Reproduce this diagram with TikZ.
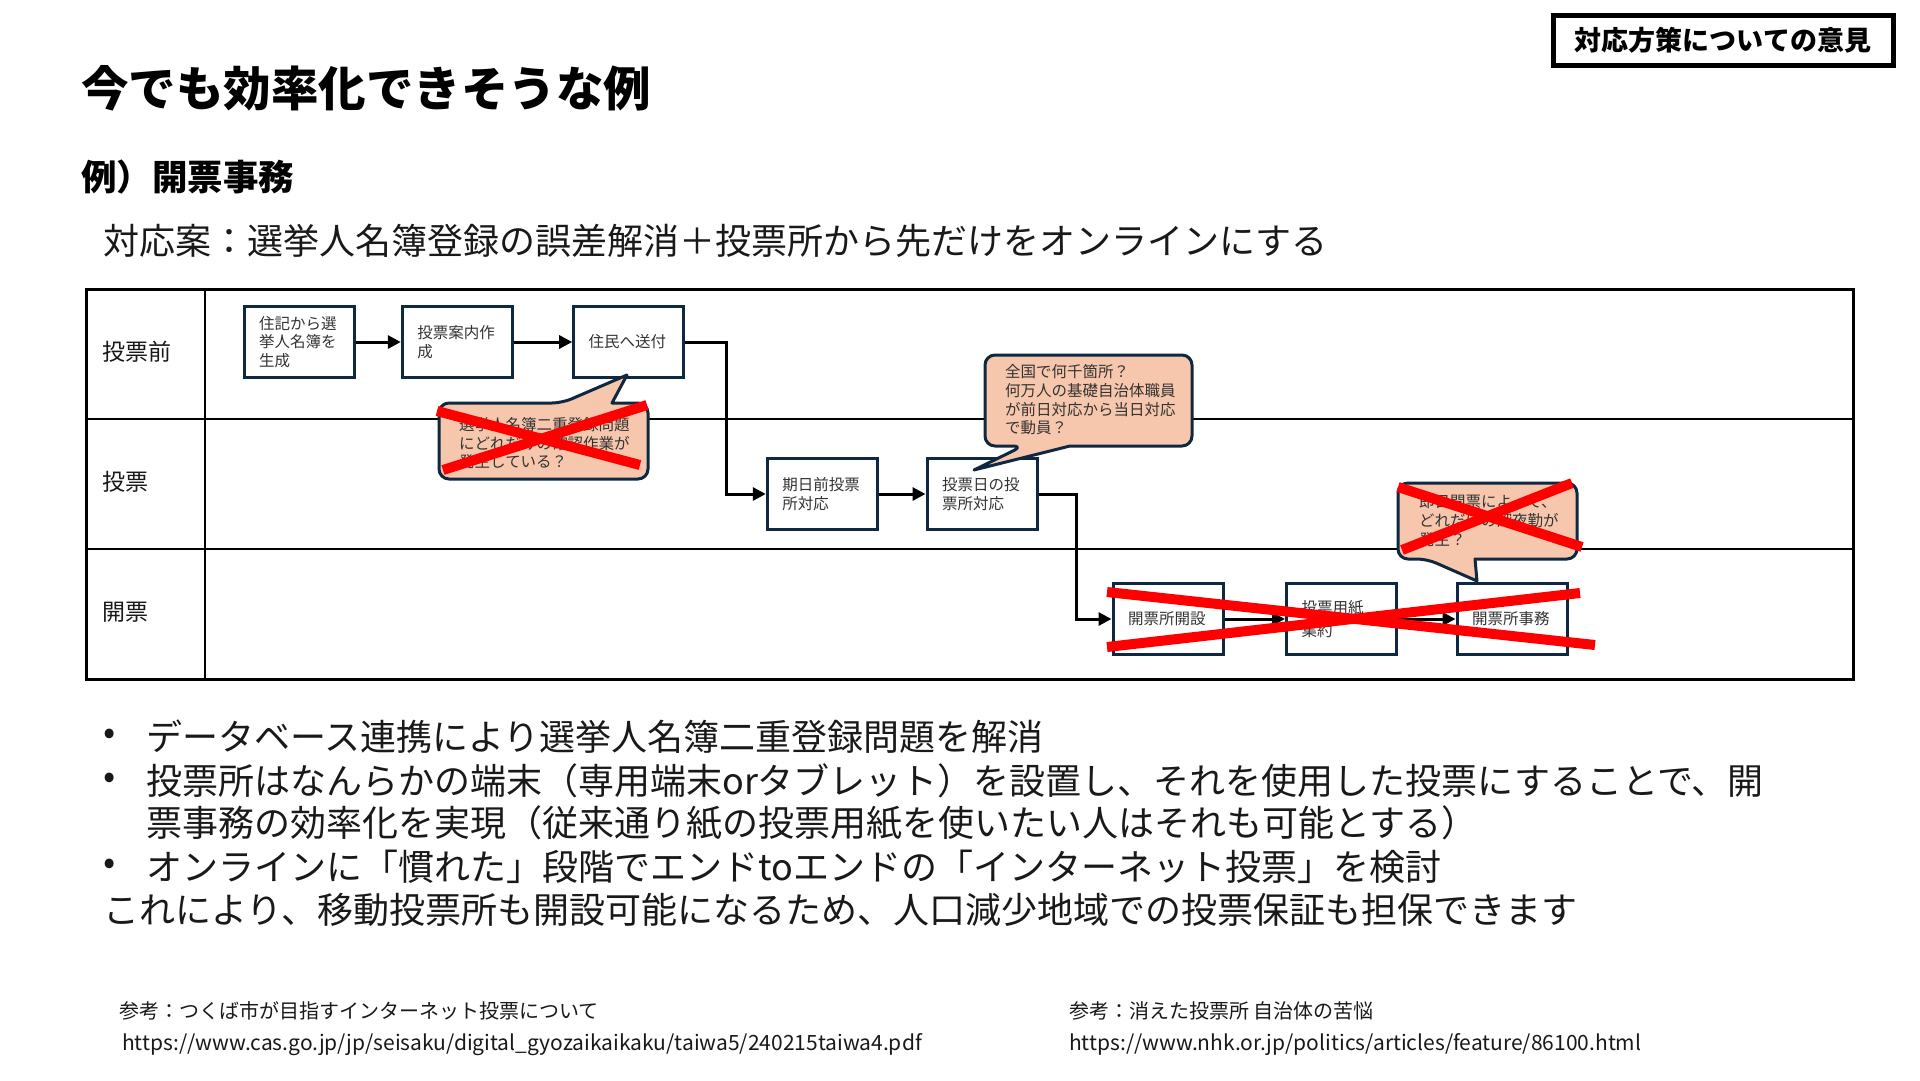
\documentclass[tikz,border=0pt]{standalone}
\usepackage{fontspec}
\setmainfont{Noto Sans CJK JP}
\usepackage{graphicx}
\usetikzlibrary{arrows.meta}
\definecolor{navy}{HTML}{0E2841}
\definecolor{peach}{HTML}{F6C6AD}
\begin{document}
\begin{tikzpicture}[x=1pt,y=-1pt,
  proc/.style={draw=navy, line width=3pt, fill=white, minimum width=110pt, minimum height=71pt,
    text width=80pt, align=left, inner sep=0pt, font=\fontsize{15.5pt}{18.5pt}\selectfont, text=black!80},
  flow/.style={line width=3pt, -{Triangle[length=13pt,width=13pt]}},
  callout/.style={draw=navy, line width=3pt, fill=peach, line join=round},
  cross/.style={draw=red, line width=10pt},
  lane/.style={font=\fontsize{23pt}{27pt}\selectfont, anchor=west, inner sep=0pt, text=black!90},
  ctext/.style={font=\fontsize{15.5pt}{18.6pt}\selectfont, anchor=west, align=left, inner sep=0pt, text=black!80},
  body/.style={font=\fontsize{36pt}{40pt}\selectfont, anchor=west, inner sep=0pt, text=black!90},
  ref/.style={font=\fontsize{20pt}{24pt}\selectfont, anchor=west, inner sep=0pt, text=black!90},
  url/.style={font=\fontsize{21pt}{24pt}\selectfont, anchor=west, inner sep=0pt, text=black!90}
]
\useasboundingbox (0,0) rectangle (1920,1080);
\fill[white] (0,0) rectangle (1920,1080);

% header
\node[draw=black, line width=5pt, minimum width=340pt, minimum height=50pt, inner sep=0pt,
  font=\fontsize{27pt}{32pt}\selectfont\bfseries] (tag) at (1723,40) {対応方策についての意見};
\node[anchor=west, inner sep=0pt, font=\fontsize{47.5pt}{54pt}\selectfont\bfseries] (title) at (81,88) {今でも効率化できそうな例};
\node[anchor=west, inner sep=0pt, font=\fontsize{35.5pt}{40pt}\selectfont\bfseries] (sub) at (81,177) {例）開票事務};
\node[body] (plan) at (103,241) {対応案：選挙人名簿登録の誤差解消＋投票所から先だけをオンラインにする};

% swimlane table
\draw[line width=2pt] (205,289) -- (205,679);
\draw[line width=2pt] (86,419) -- (1853,419);
\draw[line width=2pt] (86,549) -- (1853,549);
\draw[line width=3pt] (86,289) rectangle (1853,679);
\node[lane] (l1) at (102,352) {投票前};
\node[lane] (l2) at (102,482) {投票};
\node[lane] (l3) at (102,612) {開票};

% process boxes
\node[proc] (b1) at (299,342) {住記から選\\挙人名簿を\\生成};
\node[proc] (b2) at (457.3,342) {投票案内作\\成};
\node[proc] (b3) at (628.7,342) {住民へ送付};
\node[proc] (b4) at (822.3,494) {期日前投票\\所対応};
\node[proc] (b5) at (982,494) {投票日の投\\票所対応};
\node[proc] (b6) at (1168,619) {開票所開設};
\node[proc] (b7) at (1341.5,619) {投票用紙\\[5pt]集約};
\node[proc] (b8) at (1512,619) {開票所事務};

% connectors
\draw[flow] (b1.east) -- (b2.west);
\draw[flow] (b2.east) -- (b3.west);
\draw[flow] (b3.east) -- ++(41,0) |- (b4.west);
\draw[flow] (b4.east) -- (b5.west);
\draw[flow] (b5.east) -- ++(38,0) |- (b6.west);
\draw[flow] (b6.east) -- (b7.west);
\draw[flow] (b7.east) -- (b8.west);

% callout 1
\filldraw[callout] (562,403) -- (627,375) -- (612,403) [rounded corners=10pt] -- (648,403) -- (648,479) -- (439,479) -- (439,403) -- cycle;
\node[ctext] (c1) at (459,443.5) {選挙人名簿二重登録問題\\にどれだけの確認作業が\\発生している？};
\draw[cross] (437,411) -- (640,465);
\draw[cross] (443,470) -- (647,405);

% callout 2
\filldraw[callout] (1023,446) -- (974,470) -- (1070,446) [rounded corners=10pt] -- (1192,446) -- (1192,355) -- (985,355) -- (985,446) -- cycle;
\node[ctext] (c2) at (1005,400) {全国で何千箇所？\\何万人の基礎自治体職員\\が前日対応から当日対応\\で動員？};

% callout 3
\filldraw[callout] (1427,559) -- (1477,581) -- (1475,559) [rounded corners=10pt] -- (1577,559) -- (1577,483) -- (1398,483) -- (1398,559) -- cycle;
\node[ctext] (c3) at (1419,521) {即日開票によって、\\どれだけの深夜勤が\\発生？};
\draw[cross] (1398,487) -- (1582,547);
\draw[cross] (1402,550) -- (1572,483);

% cross over opening boxes
\draw[cross] (1107,592) -- (1595,645);
\draw[cross] (1107,647) -- (1580,593);

% bullets
\node[body] (d1) at (103,737) {•};
\node[body] (t1) at (146,737) {データベース連携により選挙人名簿二重登録問題を解消};
\node[body] (d2) at (103,781) {•};
\node[body] (t2) at (146,781) {投票所はなんらかの端末（専用端末orタブレット）を設置し、それを使用した投票にすることで、開};
\node[body] (t2b) at (146,823) {票事務の効率化を実現（従来通り紙の投票用紙を使いたい人はそれも可能とする）};
\node[body] (d3) at (103,867) {•};
\node[body] (t3) at (146,867) {オンラインに「慣れた」段階でエンドtoエンドの「インターネット投票」を検討};
\node[body] (t4) at (103,910) {これにより、移動投票所も開設可能になるため、人口減少地域での投票保証も担保できます};

% references
\node[ref] (r1) at (119,1011) {参考：つくば市が目指すインターネット投票について};
\node[url] (u1) at (122,1044.5) {https://www.cas.go.jp/jp/seisaku/digital\_gyozaikaikaku/taiwa5/240215taiwa4.pdf};
\node[ref] (r2) at (1069,1011) {参考：消えた投票所 自治体の苦悩};
\node[url] (u2) at (1069,1044.5) {https://www.nhk.or.jp/politics/articles/feature/86100.html};
\end{tikzpicture}
\end{document}
